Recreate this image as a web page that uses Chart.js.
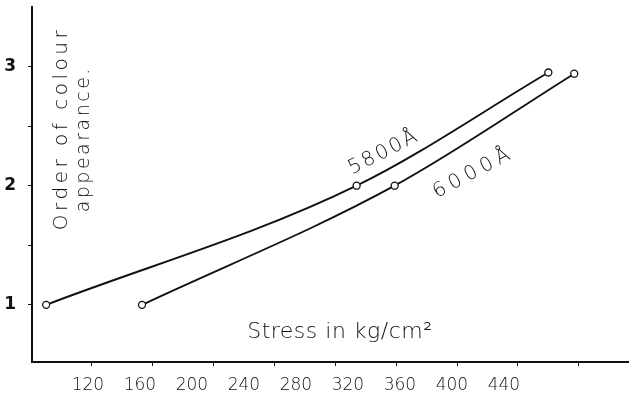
<!DOCTYPE html>
<html>
<head>
<meta charset="utf-8">
<script src="https://cdn.jsdelivr.net/npm/chart.js@4/dist/chart.umd.min.js"></script>
<style>
  html, body { margin: 0; padding: 0; background: #fff; }
  #wrap { width: 634px; height: 397px; }
</style>
</head>
<body>
<div id="wrap"><canvas id="c" width="634" height="397"></canvas></div>
<script>
// Stress (kg/cm²) at which each colour order appears, for two wavelengths
const seriesNames = ['5800Å', '6000Å'];
const stress5800 = [90, 294, 420];
const order5800 = [1, 2, 2.95];
const stress6000 = [153, 319, 437];
const order6000 = [1, 2, 2.94];

// Axis ticks
const xTickLabels = [120, 160, 200, 240, 280, 320, 360, 400, 440];
const yTickMarks = [1, 1.5, 2, 2.5, 3];
const yTickLabels = [1, 2, 3];

const xTitle = 'Stress in kg/cm²';
const yTitle = ['Order of colour', 'appearance.'];

const ink = '#111';
const handFont = '"DejaVu Sans", "Liberation Sans", sans-serif';

const toPoints = (xs, ys) => xs.map((x, i) => ({ x, y: ys[i] }));

// Text written on the plot: curve names and axis titles
const notes = {
  id: 'notes',
  afterDatasetsDraw(chart) {
    const { ctx, scales: { x, y } } = chart;
    const put = (text, px, py, angle, size, spacing) => {
      ctx.save();
      ctx.translate(px, py);
      ctx.rotate(angle * Math.PI / 180);
      ctx.font = '300 ' + size + 'px ' + handFont;
      ctx.letterSpacing = spacing + 'px';
      ctx.fillStyle = ink;
      ctx.textAlign = 'center';
      ctx.textBaseline = 'middle';
      ctx.fillText(text, 0, 0);
      ctx.restore();
    };
    put(seriesNames[0], x.getPixelForValue(312), y.getPixelForValue(2.28), -27, 20, 2.5);
    put(seriesNames[1], x.getPixelForValue(371), y.getPixelForValue(2.11), -28, 20, 5);
    put(xTitle, x.getPixelForValue(283), y.getPixelForValue(0.77), 0, 22, 0.5);
    put(yTitle[0], x.getPixelForValue(100), y.getPixelForValue(2.48), -90, 20, 3.5);
    put(yTitle[1], x.getPixelForValue(115), y.getPixelForValue(2.39), -90, 19, 2.5);
  }
};

const lineStyle = {
  borderColor: ink,
  borderWidth: 1.9,
  pointRadius: 3.5,
  pointBorderWidth: 1.3,
  pointBackgroundColor: '#fff',
  pointBorderColor: ink,
  cubicInterpolationMode: 'monotone',
  fill: false
};

const noEdgePadding = s => {
  s.paddingTop = 0; s.paddingBottom = 0; s.paddingLeft = 0; s.paddingRight = 0;
};

new Chart(document.getElementById('c'), {
  type: 'line',
  data: {
    datasets: [
      { label: seriesNames[0], data: toPoints(stress5800, order5800), ...lineStyle },
      { label: seriesNames[1], data: toPoints(stress6000, order6000), ...lineStyle }
    ]
  },
  options: {
    responsive: false,
    animation: false,
    layout: { padding: { top: 7, right: 4, left: 0, bottom: 0 } },
    plugins: { legend: { display: false }, tooltip: { enabled: false } },
    scales: {
      x: {
        type: 'linear',
        position: 'bottom',
        weight: 0,
        min: 80.7,
        max: 472.8,
        border: { color: ink, width: 2 },
        grid: { drawOnChartArea: false, drawTicks: true, tickLength: 4, color: ink, lineWidth: 1 },
        ticks: { display: false },
        afterBuildTicks: s => { s.ticks = xTickLabels.map(v => ({ value: v })); },
        afterFit: s => { s.height = 4; noEdgePadding(s); }
      },
      xl: {
        type: 'linear',
        position: 'bottom',
        weight: 1,
        min: 77,
        max: 536,
        border: { display: false },
        grid: { display: false },
        ticks: {
          color: ink,
          padding: 1,
          maxRotation: 0,
          autoSkip: false,
          font: { family: handFont, size: 17, weight: '300' }
        },
        afterBuildTicks: s => { s.ticks = xTickLabels.map(v => ({ value: v })); },
        afterFit: s => { s.height = 31; noEdgePadding(s); }
      },
      y: {
        type: 'linear',
        min: 0.52,
        max: 3.5,
        border: { color: ink, width: 2 },
        grid: { drawOnChartArea: false, drawTicks: true, tickLength: 4, color: ink, lineWidth: 1 },
        ticks: {
          color: ink,
          padding: 12,
          autoSkip: false,
          font: { family: handFont, size: 17, weight: 'bold' },
          callback: v => (yTickLabels.includes(v) ? String(v) : '')
        },
        afterBuildTicks: s => { s.ticks = yTickMarks.map(v => ({ value: v })); },
        afterFit: s => { s.width = 32; noEdgePadding(s); }
      }
    }
  },
  plugins: [notes]
});
</script>
</body>
</html>
